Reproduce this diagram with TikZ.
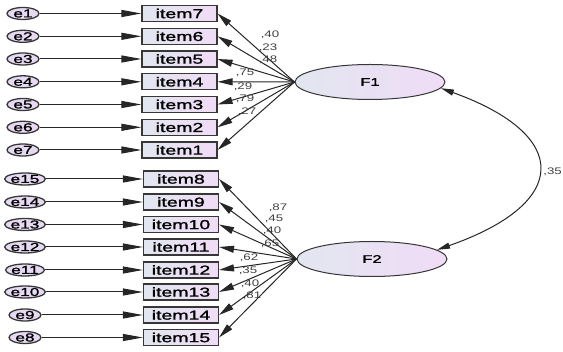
\documentclass[tikz,border=0pt]{standalone}
\usepackage{fontspec}
\setmainfont{Liberation Sans}
\newfontfamily\amosfont[FakeStretch=1.5,FakeBold=1.5]{Liberation Sans}
\newfontfamily\amoslab[FakeStretch=1.4]{Liberation Sans}
\usetikzlibrary{arrows.meta,shapes.geometric}
\definecolor{boxl}{RGB}{226,230,240}
\definecolor{boxr}{RGB}{240,220,246}
\definecolor{efill}{RGB}{230,218,242}
\definecolor{edge}{RGB}{55,55,55}
\tikzset{
  itembox/.style={rectangle,draw=edge,line width=1.1pt,minimum width=75pt,minimum height=16pt,inner sep=0pt,
    left color=boxl,right color=boxr,font=\amosfont\fontsize{13}{13}\selectfont},
  errell/.style={ellipse,draw=edge,line width=1.3pt,minimum width=32pt,minimum height=12pt,inner sep=0pt,
    fill=efill,font=\amosfont\fontsize{11.5}{11.5}\selectfont},
  factor/.style={ellipse,draw=edge,line width=1pt,minimum width=150pt,minimum height=35pt,inner sep=0pt,
    left color=boxl,right color=boxr,font=\amosfont\fontsize{11}{11}\selectfont},
  errarr/.style={line width=1pt,draw=black!85,-{Triangle[length=20pt,width=7pt]}},
  loadarr/.style={line width=1pt,draw=black!85,-{Triangle[length=15pt,width=7pt]}},
  covarr/.style={line width=1pt,draw=black!85,{Triangle[length=13pt,width=6pt]}-{Triangle[length=13pt,width=6pt]}},
  lab/.style={inner sep=0pt,text=black!75,font=\amoslab\fontsize{9.5}{9.5}\selectfont},
}
\begin{document}
\begin{tikzpicture}[x=1pt,y=-1pt]
\useasboundingbox (0,0) rectangle (563,352);
% factors
\node[factor] (F1) at (370,82) {F1};
\node[factor] (F2) at (372,259) {F2};
% top group
\foreach \i/\it/\y in {1/7/13.5,2/6/36.3,3/5/59,4/4/81.8,5/3/104.5,6/2/127.3,7/1/150}{
  \node[itembox] (item\it) at (179.5,\y) {item\it};
  \node[errell] (e\i) at (23,\y) {e\i};
  \draw[errarr] (e\i.east) -- (item\it.west);
  \draw[loadarr] (F1.west) -- (item\it.east);
}
% bottom group
\foreach \i/\it/\y in {15/8/179,14/9/202,13/10/224.5,12/11/247,11/12/270,10/13/292,9/14/315,8/15/337.5}{
  \node[itembox] (item\it) at (181,\y) {item\it};
  \node[errell] (e\i) at (25,\y) {e\i};
  \draw[errarr] (e\i.east) -- (item\it.west);
  \draw[loadarr] (F2.west) -- (item\it.east);
}
% covariance
\draw[covarr] (F1.-5) .. controls (571,135) and (571,203) .. (F2.8);
\node[lab,anchor=east] (cov) at (562,172) {,35};
% loadings F1
\node[lab] (l7) at (270,35) {,40};
\node[lab] (l6) at (268,48) {,23};
\node[lab] (l5) at (268,60) {,48};
\node[lab] (l4) at (245,73) {,75};
\node[lab] (l3) at (243,87) {,29};
\node[lab] (l2) at (245,99) {,79};
\node[lab] (l1) at (247,112) {,27};
% loadings F2
\node[lab] (l8) at (278,208) {,87};
\node[lab] (l9) at (274,219) {,45};
\node[lab] (l10) at (272,231) {,40};
\node[lab] (l11) at (270,244) {,65};
\node[lab] (l12) at (249,258) {,62};
\node[lab] (l13) at (248,271) {,35};
\node[lab] (l14) at (250,284) {,40};
\node[lab] (l15) at (252,296) {,81};
\end{tikzpicture}
\end{document}
